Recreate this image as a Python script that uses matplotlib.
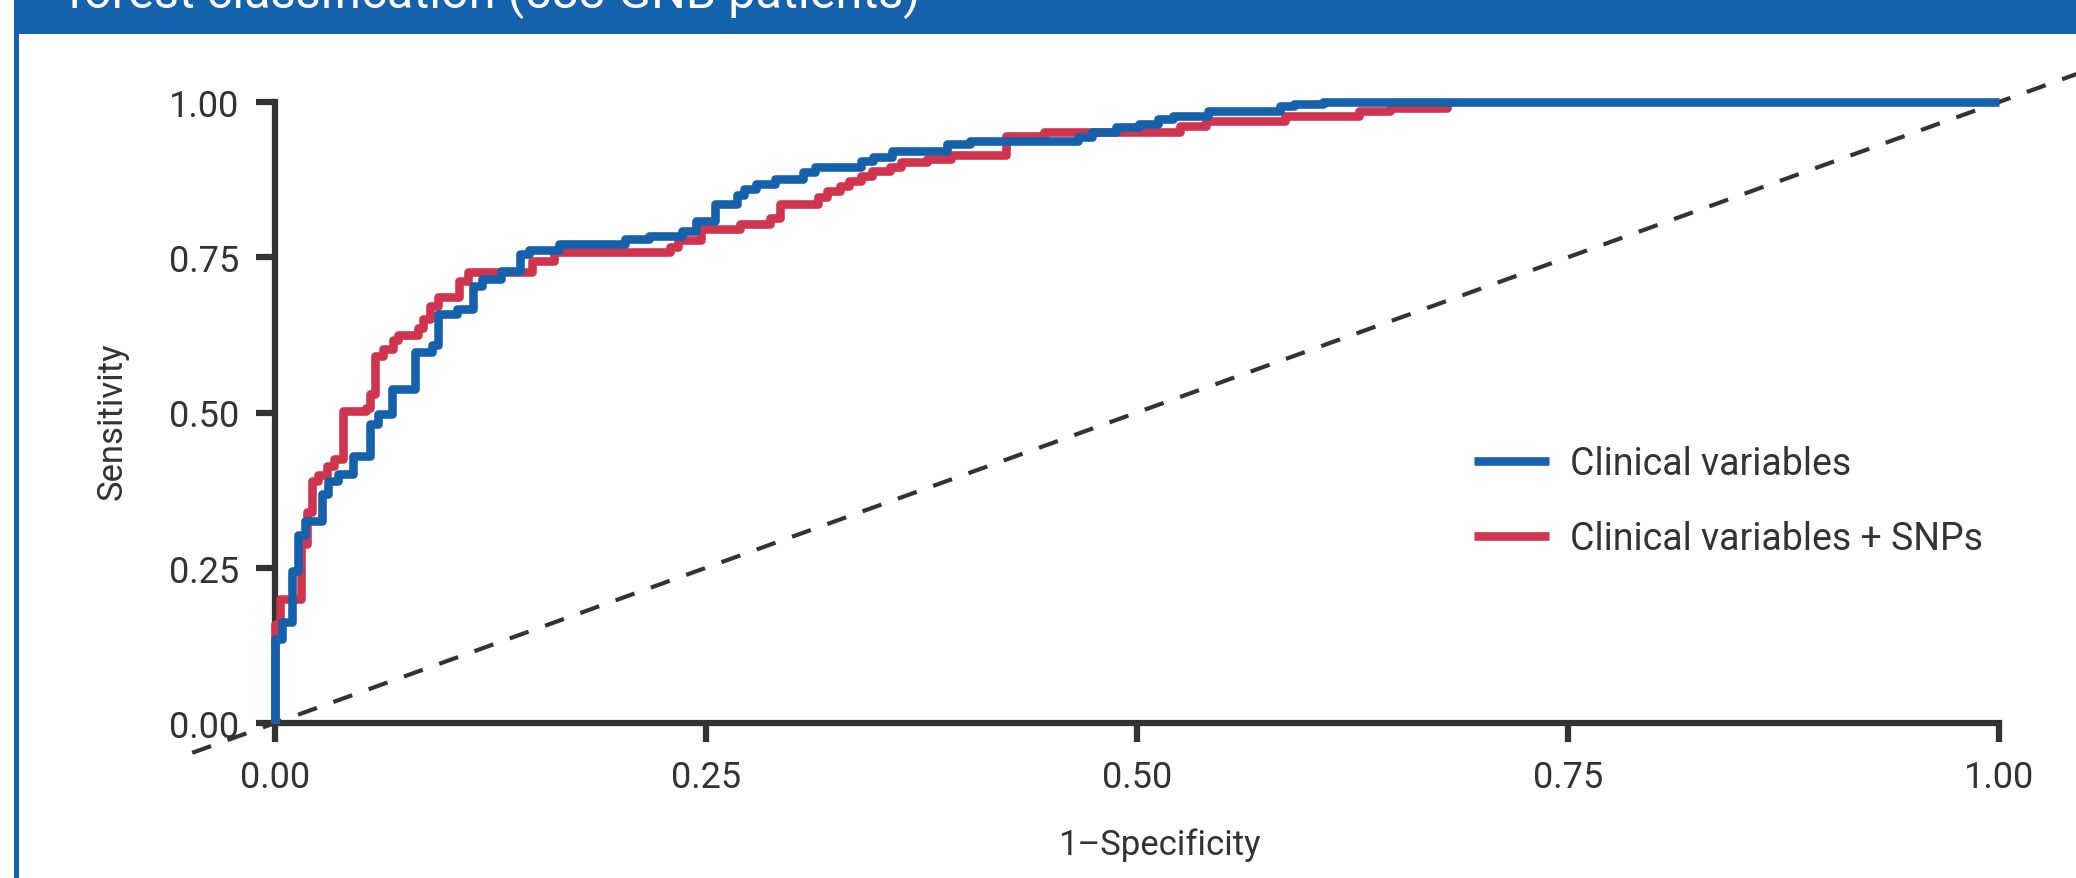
import matplotlib
matplotlib.use("Agg")
import matplotlib.pyplot as plt
from matplotlib.patches import Rectangle

plt.rcParams['font.family'] = ['Roboto', 'DejaVu Sans']

# ROC steps: at each fpr the curve rises to tpr
clin_fpr = [0, 0, 0.0042, 0.0097, 0.0135, 0.0174, 0.027, 0.0305, 0.0363, 0.0454,
            0.055, 0.0595, 0.0677, 0.081, 0.0909, 0.0946, 0.1054, 0.115, 0.120, 0.131,
            0.142, 0.1475, 0.165, 0.203, 0.217, 0.236, 0.244, 0.255, 0.268, 0.272,
            0.279, 0.290, 0.306, 0.313, 0.340, 0.347, 0.358, 0.390, 0.403, 0.466,
            0.474, 0.488, 0.501, 0.512, 0.521, 0.541, 0.583, 0.591, 0.608, 1.0]
clin_tpr = [0, 0.135, 0.162, 0.245, 0.302, 0.326, 0.369, 0.390, 0.401, 0.430,
            0.482, 0.497, 0.538, 0.597, 0.608, 0.658, 0.667, 0.704, 0.715, 0.728,
            0.755, 0.761, 0.772, 0.779, 0.785, 0.793, 0.809, 0.835, 0.850, 0.860,
            0.868, 0.876, 0.887, 0.896, 0.905, 0.911, 0.921, 0.932, 0.938, 0.943,
            0.951, 0.959, 0.964, 0.972, 0.978, 0.986, 0.993, 0.996, 1.0, 1.0]

snp_fpr = [0, 0, 0.0029, 0.0151, 0.0184, 0.0213, 0.025, 0.030, 0.034, 0.0396,
           0.053, 0.055, 0.058, 0.0628, 0.0686, 0.0715, 0.083, 0.086, 0.0899, 0.0947,
           0.107, 0.112, 0.149, 0.162, 0.229, 0.234, 0.247, 0.270, 0.287, 0.293,
           0.315, 0.320, 0.328, 0.333, 0.340, 0.346, 0.357, 0.363, 0.378, 0.392,
           0.424, 0.446, 0.525, 0.540, 0.586, 0.629, 0.647, 0.680]
snp_tpr = [0, 0.16, 0.199, 0.288, 0.339, 0.390, 0.400, 0.414, 0.425, 0.503,
           0.508, 0.530, 0.591, 0.602, 0.616, 0.625, 0.636, 0.651, 0.672, 0.686,
           0.712, 0.726, 0.744, 0.758, 0.767, 0.777, 0.795, 0.803, 0.814, 0.835,
           0.847, 0.857, 0.865, 0.873, 0.881, 0.889, 0.895, 0.903, 0.908, 0.915,
           0.945, 0.952, 0.962, 0.970, 0.978, 0.986, 0.991, 1.0]

diag = [-0.048, 1.1]
ticks = [0, 0.25, 0.5, 0.75, 1.0]
tick_labels = ['0.00', '0.25', '0.50', '0.75', '1.00']

BLUE = '#1661ab'
RED = '#d0344f'
DARK = '#333333'

W, H = 2076, 879
fig = plt.figure(figsize=(W / 100, H / 100), dpi=100)

# header bar and left frame line
fig.add_artist(Rectangle((14 / W, 1 - 35 / H), 1, 35 / H, transform=fig.transFigure,
                         color='#1562ac', lw=0))
fig.add_artist(Rectangle((14 / W, 0), 5 / W, 1, transform=fig.transFigure,
                         color='#1562ac', lw=0))
fig.text(67 / W, 1 - 8 / H, 'forest classification (583 GNB patients)', color='white',
         fontsize=35, ha='left', va='baseline')

ax = fig.add_axes([275 / W, 1 - 724 / H, 1724 / W, 621 / H])
ax.set_xlim(0, 1)
ax.set_ylim(0, 1)

ax.plot(diag, diag, color=DARK, lw=3, dashes=(4.8, 4.2), clip_on=False, zorder=2)
ax.plot(snp_fpr, snp_tpr, drawstyle='steps-post', color=RED, lw=6.2, clip_on=False,
        zorder=3, label='Clinical variables + SNPs', solid_capstyle='butt')
ax.plot(clin_fpr, clin_tpr, drawstyle='steps-post', color=BLUE, lw=6.2, clip_on=False,
        zorder=4, label='Clinical variables', solid_capstyle='butt')

for s in ['top', 'right']:
    ax.spines[s].set_visible(False)
for s in ['left', 'bottom']:
    ax.spines[s].set_linewidth(4.5)
    ax.spines[s].set_color(DARK)

ax.set_xticks(ticks, tick_labels)
ax.set_yticks(ticks, tick_labels)
ax.tick_params(length=14, width=4.5, pad=12, labelsize=26, color=DARK, labelcolor=DARK)

ax.set_xlabel('1–Specificity', fontsize=25, color=DARK)
ax.xaxis.set_label_coords(0.513, -0.195)
ax.xaxis.label.set_va('center')
ax.set_ylabel('Sensitivity', fontsize=25, color=DARK)
ax.yaxis.set_label_coords(-0.0945, 0.488)
ax.yaxis.label.set_va('center')

h, l = ax.get_legend_handles_labels()
ax.legend(h[::-1], l[::-1], loc='center left', bbox_to_anchor=(0.6955, 0.3575),
          frameon=False, fontsize=27, handlelength=2.0, handletextpad=0.55,
          labelspacing=1.0, borderpad=0, borderaxespad=0, labelcolor=DARK)

fig.savefig('out.png', dpi=100)
